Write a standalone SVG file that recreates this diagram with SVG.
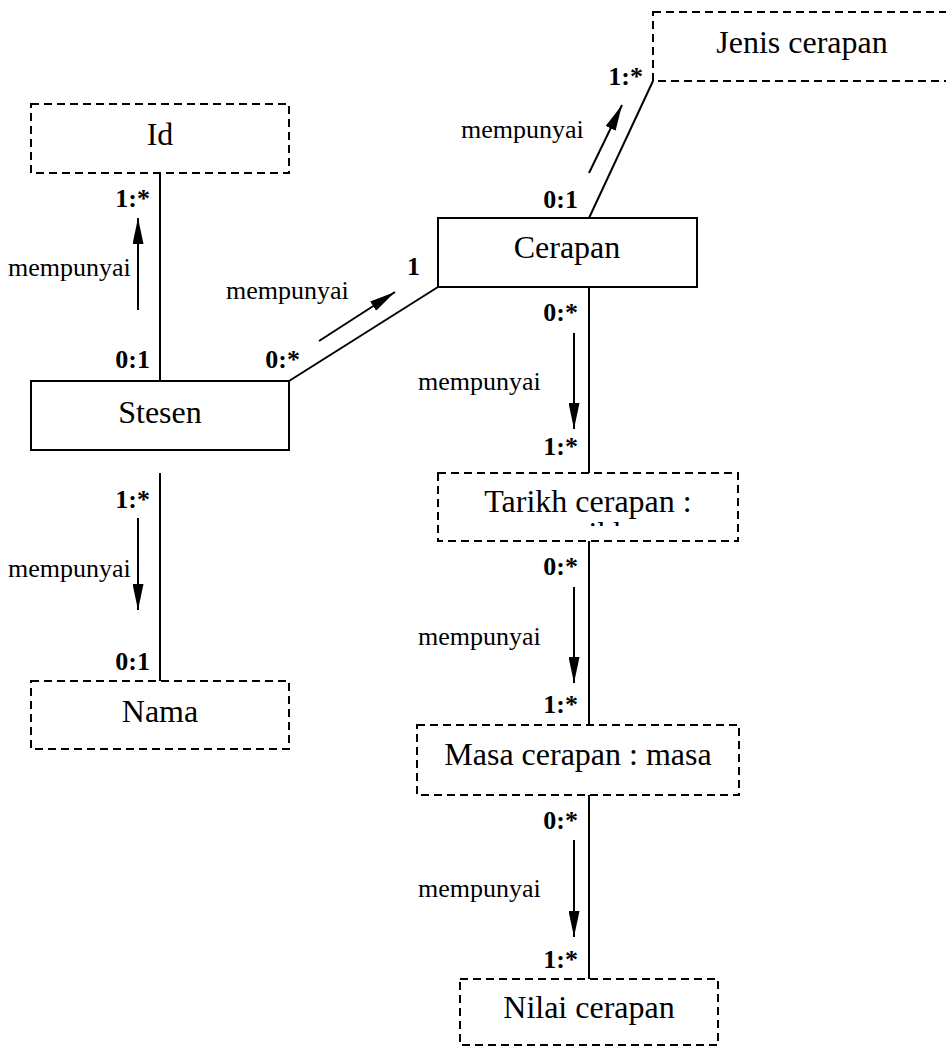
<svg xmlns="http://www.w3.org/2000/svg" width="946" height="1048" viewBox="0 0 946 1048">
<style>
.box{fill:#fff;stroke:#000;stroke-width:2}
.dash{fill:#fff;stroke:#000;stroke-width:2;stroke-dasharray:8 5}
.lbl{font-family:"Liberation Serif","Times New Roman",serif;font-size:32px;fill:#000;text-anchor:middle}
.rel{font-family:"Liberation Serif","Times New Roman",serif;font-size:26px;fill:#000}
.mul{font-family:"Liberation Serif","Times New Roman",serif;font-size:26px;font-weight:bold;fill:#000;text-anchor:end}
.ln{stroke:#000;stroke-width:2;fill:none}
.arr{stroke:#000;stroke-width:2;fill:none;marker-end:url(#ah)}
</style>
<defs>
<marker id="ah" markerUnits="userSpaceOnUse" markerWidth="27" markerHeight="11" refX="26" refY="5.5" orient="auto">
<path d="M0,0 L26,5.5 L0,11 z" fill="#000"/>
</marker>
<clipPath id="clipTarikh"><rect x="440" y="474" width="297" height="52"/></clipPath>
</defs>
<g id="connectors">
<line class="ln" x1="160" y1="173" x2="160" y2="381"/>
<line class="ln" x1="160" y1="473" x2="160" y2="681"/>
<line class="ln" x1="289" y1="381" x2="438" y2="287"/>
<line class="ln" x1="589" y1="218" x2="653" y2="81"/>
<line class="ln" x1="589" y1="287" x2="589" y2="473"/>
<line class="ln" x1="589" y1="541" x2="589" y2="725"/>
<line class="ln" x1="589" y1="795" x2="589" y2="979"/>
<line class="arr" x1="138" y1="310" x2="138" y2="218"/>
<line class="arr" x1="138" y1="518" x2="138" y2="610"/>
<line class="arr" x1="319" y1="341" x2="395" y2="292"/>
<line class="arr" x1="589" y1="173" x2="622" y2="105"/>
<line class="arr" x1="574" y1="333" x2="574" y2="429"/>
<line class="arr" x1="574" y1="587" x2="574" y2="683"/>
<line class="arr" x1="574" y1="840" x2="574" y2="937"/>
<text class="rel" x="8" y="276">mempunyai</text>
<text class="rel" x="8" y="577">mempunyai</text>
<text class="rel" x="226" y="299">mempunyai</text>
<text class="rel" x="461" y="138">mempunyai</text>
<text class="rel" x="418" y="390">mempunyai</text>
<text class="rel" x="418" y="645">mempunyai</text>
<text class="rel" x="418" y="897">mempunyai</text>
<text class="mul" x="150" y="207">1:*</text>
<text class="mul" x="150" y="368">0:1</text>
<text class="mul" x="150" y="508">1:*</text>
<text class="mul" x="150" y="670">0:1</text>
<text class="mul" x="300" y="368">0:*</text>
<text class="mul" x="420" y="275">1</text>
<text class="mul" x="578" y="208">0:1</text>
<text class="mul" x="643" y="85">1:*</text>
<text class="mul" x="578" y="321">0:*</text>
<text class="mul" x="578" y="455">1:*</text>
<text class="mul" x="578" y="575">0:*</text>
<text class="mul" x="578" y="713">1:*</text>
<text class="mul" x="578" y="829">0:*</text>
<text class="mul" x="578" y="968">1:*</text>
</g>
<g id="node-id">
<rect class="dash" x="31" y="104" width="258" height="69"/>
<text class="lbl" x="160" y="145">Id</text>
</g>
<g id="node-stesen">
<rect class="box" x="31" y="381" width="258" height="69"/>
<text class="lbl" x="160" y="423">Stesen</text>
</g>
<g id="node-nama">
<rect class="dash" x="31" y="681" width="258" height="68"/>
<text class="lbl" x="160" y="722">Nama</text>
</g>
<g id="node-cerapan">
<rect class="box" x="438" y="218" width="259" height="69"/>
<text class="lbl" x="567" y="258">Cerapan</text>
</g>
<g id="node-jenis">
<rect class="dash" x="653" y="12" width="310" height="69"/>
<text class="lbl" x="802" y="53">Jenis cerapan</text>
</g>
<g id="node-tarikh">
<rect class="dash" x="438" y="473" width="300" height="68"/>
<g clip-path="url(#clipTarikh)">
<text class="lbl" x="588" y="512">Tarikh cerapan :<tspan x="592" dy="32">tarikh</tspan></text>
</g>
</g>
<g id="node-masa">
<rect class="dash" x="417" y="725" width="322" height="70"/>
<text class="lbl" x="578" y="765">Masa cerapan : masa</text>
</g>
<g id="node-nilai">
<rect class="dash" x="460" y="979" width="258" height="66"/>
<text class="lbl" x="589" y="1018">Nilai cerapan</text>
</g>
</svg>
